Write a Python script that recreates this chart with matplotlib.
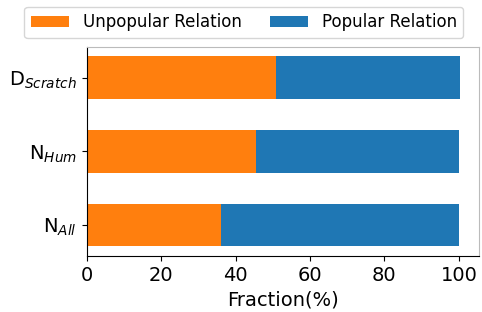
import matplotlib
matplotlib.use("Agg")
import matplotlib.pyplot as plt

# Data
labels = ["N$_{All}$", "N$_{Hum}$", "D$_{Scratch}$"]
unpopular = [36.0, 45.4, 50.8]
popular = [64.0, 54.6, 49.5]

fig, ax = plt.subplots(figsize=(4.82, 3.12), dpi=100)

pos = range(len(labels))
ax.barh(pos, unpopular, height=0.58, color="#ff7f0e", label="Unpopular Relation")
ax.barh(pos, popular, height=0.58, left=unpopular, color="#1f77b4", label="Popular Relation")

ax.set_yticks(list(pos))
ax.set_yticklabels(labels, fontsize=14)
ax.tick_params(axis="x", labelsize=14)
ax.set_xlabel("Fraction(%)", fontsize=14)
ax.set_xticks([0, 20, 40, 60, 80, 100])

for s in ["top", "right"]:
    ax.spines[s].set_color("#bbbbbb")

# legend centred over the figure, just above the axes
fig.legend(loc="upper center", bbox_to_anchor=(0.506, 1.005), ncol=2, fontsize=12,
           handlelength=2.3, columnspacing=1.7)

plt.subplots_adjust(left=0.18, right=0.993, top=0.85, bottom=0.18)
plt.savefig("out.png")
